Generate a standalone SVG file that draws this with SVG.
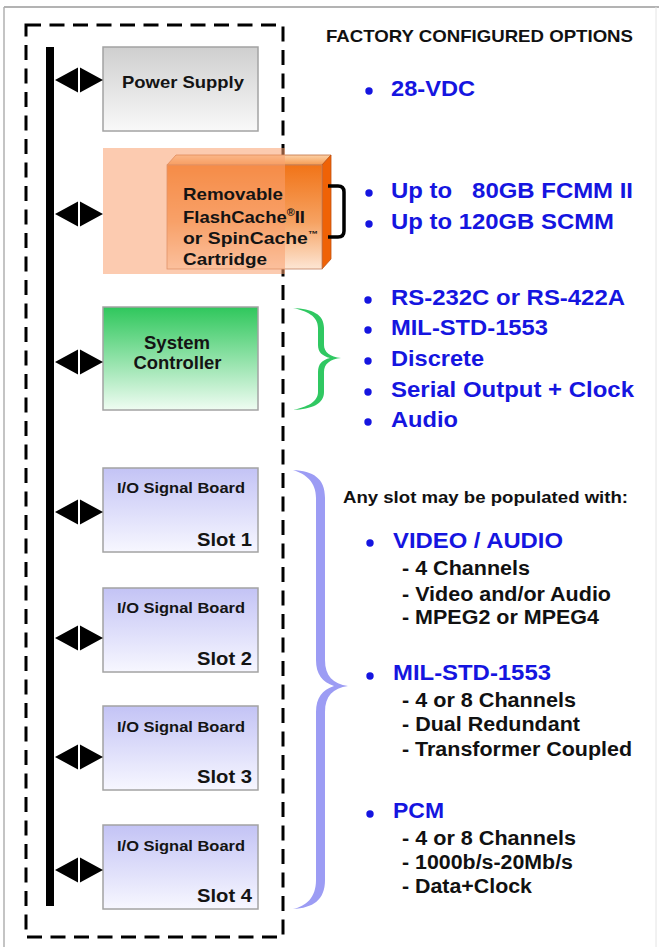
<svg xmlns="http://www.w3.org/2000/svg" width="659" height="947" viewBox="0 0 659 947">
  <defs>
    <linearGradient id="gGray" x1="0" y1="0" x2="0" y2="1">
      <stop offset="0" stop-color="#cfcfcf"/>
      <stop offset="1" stop-color="#f9f9f9"/>
    </linearGradient>
    <linearGradient id="gGreen" x1="0" y1="0" x2="0" y2="1">
      <stop offset="0" stop-color="#2fc75c"/>
      <stop offset="1" stop-color="#effcf2"/>
    </linearGradient>
    <linearGradient id="gBlue" x1="0" y1="0" x2="0" y2="1">
      <stop offset="0" stop-color="#c3c3f5"/>
      <stop offset="1" stop-color="#f7f7ff"/>
    </linearGradient>
    <linearGradient id="gFront" x1="0" y1="0" x2="0" y2="1">
      <stop offset="0" stop-color="#f17418"/>
      <stop offset="0.55" stop-color="#f6a262"/>
      <stop offset="1" stop-color="#fde6d4"/>
    </linearGradient>
    <linearGradient id="gTop" x1="0" y1="0" x2="0" y2="1">
      <stop offset="0" stop-color="#fcd2a8"/>
      <stop offset="1" stop-color="#f59a50"/>
    </linearGradient>
    <style>
      text { font-family: "Liberation Sans", Arial, sans-serif; font-weight: bold; }
      .box { stroke: #a3a3a3; stroke-width: 1.5; }
      .lbl { fill: #141414; }
      .io { font-size: 15px; }
      .slot { font-size: 18.5px; text-anchor: end; }
      .opt { fill: #1515e0; font-size: 22px; }
      .sub { fill: #111; font-size: 19.5px; }
      .dot { fill: #1515e0; }
      .arrow { fill: #000; }
    </style>
  </defs>

  <!-- page frame -->
  <g id="frame" fill="none">
    <line x1="4" y1="7" x2="659" y2="7" stroke="#9a9a9a" stroke-width="1.5"/>
    <line x1="4" y1="7" x2="4" y2="947" stroke="#b0b0b0" stroke-width="1.5"/>
    <line x1="656" y1="7" x2="656" y2="947" stroke="#e4e4e4" stroke-width="1"/>
  </g>

  <!-- chassis outline -->
  <rect id="chassis" x="26" y="25" width="257" height="912" fill="none" stroke="#000" stroke-width="3" stroke-dasharray="15 8.5"/>

  <!-- backplane bus -->
  <rect id="bus" x="46" y="47" width="8" height="859" fill="#000"/>

  <g id="power-supply">
    <rect class="box" x="103" y="47" width="155" height="84" fill="url(#gGray)"/>
    <text class="lbl" x="122" y="88" font-size="17" textLength="122" lengthAdjust="spacingAndGlyphs">Power Supply</text>
  </g>

  <g id="cartridge">
    <polygon points="167,165 176,155 331,155 322,165" fill="url(#gTop)" stroke="#c07040" stroke-width="0.8"/>
    <polygon points="322,165 331,155 331,259 322,269" fill="#ef6206" stroke="#c05010" stroke-width="0.8"/>
    <rect x="167" y="165" width="155" height="104" fill="url(#gFront)" stroke="#c08060" stroke-width="0.8"/>
    <rect x="103" y="148" width="182" height="126" fill="#f9a070" fill-opacity="0.55"/>
    <text class="lbl" font-size="17">
      <tspan x="183" y="200" textLength="100" lengthAdjust="spacingAndGlyphs">Removable</tspan>
    </text>
    <text class="lbl" font-size="17" x="183" y="223" textLength="122" lengthAdjust="spacingAndGlyphs">FlashCache<tspan font-size="10" dy="-7">®</tspan><tspan dy="7">II</tspan></text>
    <text class="lbl" font-size="17" x="183" y="244" textLength="135" lengthAdjust="spacingAndGlyphs">or SpinCache<tspan font-size="9" dy="-7">™</tspan></text>
    <text class="lbl" font-size="17" x="183" y="265" textLength="84" lengthAdjust="spacingAndGlyphs">Cartridge</text>
  </g>

  <g id="system-controller">
    <rect class="box" x="103" y="307" width="155" height="103" fill="url(#gGreen)"/>
    <text class="lbl" x="177" y="349" font-size="17.5" text-anchor="middle" textLength="66" lengthAdjust="spacingAndGlyphs">System</text>
    <text class="lbl" x="177.5" y="369" font-size="17.5" text-anchor="middle" textLength="88" lengthAdjust="spacingAndGlyphs">Controller</text>
  </g>

  <g id="slot-1">
    <rect class="box" x="103" y="468" width="155" height="84" fill="url(#gBlue)"/>
    <text class="lbl io" x="117" y="493" textLength="128" lengthAdjust="spacingAndGlyphs">I/O Signal Board</text>
    <text class="lbl slot" x="252" y="546" textLength="55" lengthAdjust="spacingAndGlyphs">Slot 1</text>
  </g>
  <g id="slot-2">
    <rect class="box" x="103" y="588" width="155" height="84" fill="url(#gBlue)"/>
    <text class="lbl io" x="117" y="613" textLength="128" lengthAdjust="spacingAndGlyphs">I/O Signal Board</text>
    <text class="lbl slot" x="252" y="665" textLength="55" lengthAdjust="spacingAndGlyphs">Slot 2</text>
  </g>
  <g id="slot-3">
    <rect class="box" x="103" y="706" width="155" height="84" fill="url(#gBlue)"/>
    <text class="lbl io" x="117" y="732" textLength="128" lengthAdjust="spacingAndGlyphs">I/O Signal Board</text>
    <text class="lbl slot" x="252" y="783" textLength="55" lengthAdjust="spacingAndGlyphs">Slot 3</text>
  </g>
  <g id="slot-4">
    <rect class="box" x="103" y="825" width="155" height="84" fill="url(#gBlue)"/>
    <text class="lbl io" x="117" y="851" textLength="128" lengthAdjust="spacingAndGlyphs">I/O Signal Board</text>
    <text class="lbl slot" x="252" y="902" textLength="55" lengthAdjust="spacingAndGlyphs">Slot 4</text>
  </g>

  <!-- bus-to-board double arrows -->
  <g id="connectors" class="arrow">
    <path d="M55,80 L78,67.5 L78,92.5 Z M103,80 L80,67.5 L80,92.5 Z"/>
    <path d="M55,214 L78,201.5 L78,226.5 Z M103,214 L80,201.5 L80,226.5 Z"/>
    <path d="M55,362 L78,349.5 L78,374.5 Z M103,362 L80,349.5 L80,374.5 Z"/>
    <path d="M55,512 L78,499.5 L78,524.5 Z M103,512 L80,499.5 L80,524.5 Z"/>
    <path d="M55,638 L78,625.5 L78,650.5 Z M103,638 L80,625.5 L80,650.5 Z"/>
    <path d="M55,757 L78,744.5 L78,769.5 Z M103,757 L80,744.5 L80,769.5 Z"/>
    <path d="M55,870 L78,857.5 L78,882.5 Z M103,870 L80,857.5 L80,882.5 Z"/>
  </g>

  <!-- option brackets -->
  <g id="braces">
    <path d="M328,186 L338,186 Q344,186 344,192 L344,231 Q344,237 338,237 L328,237" fill="none" stroke="#000" stroke-width="3.5"/>
    <path fill="#30c862" d="M293,308 C312,309 324,314 324,328 L324,345 C324,352 330,357 341,358 C330,359 324,364 324,372 L324,392 C324,404 312,409 293,410 C307,407 318,402 318,392 L318,372 C318,364 322,360 330,358 C322,356 318,352 318,345 L318,328 C318,316 307,311 293,308 Z"/>
    <path fill="#9c9cf4" d="M293,470 C313,471 325,478 325,498 L325,660 C325,676 333,684 348,686 C333,688 325,696 325,712 L325,880 C325,900 313,908 293,909 C306,906 316,898 316,880 L316,712 C316,698 322,690 334,686 C322,682 316,674 316,660 L316,498 C316,482 306,474 293,470 Z"/>
  </g>

  <!-- option lists -->
  <g id="options">
    <text x="326" y="42" font-size="17" fill="#111" textLength="307" lengthAdjust="spacingAndGlyphs">FACTORY CONFIGURED OPTIONS</text>

    <circle class="dot" cx="369" cy="91" r="3.7"/>
    <text class="opt" x="391" y="96" textLength="84" lengthAdjust="spacingAndGlyphs">28-VDC</text>

    <circle class="dot" cx="369" cy="193" r="3.7"/>
    <text class="opt" x="391" y="198" textLength="242" lengthAdjust="spacingAndGlyphs" style="white-space:pre">Up to   80GB FCMM II</text>
    <circle class="dot" cx="369" cy="224" r="3.7"/>
    <text class="opt" x="391" y="229" textLength="223" lengthAdjust="spacingAndGlyphs">Up to 120GB SCMM</text>

    <circle class="dot" cx="368" cy="300" r="3.7"/>
    <text class="opt" x="391" y="305" textLength="234" lengthAdjust="spacingAndGlyphs">RS-232C or RS-422A</text>
    <circle class="dot" cx="368" cy="330" r="3.7"/>
    <text class="opt" x="391" y="335" textLength="157" lengthAdjust="spacingAndGlyphs">MIL-STD-1553</text>
    <circle class="dot" cx="368" cy="361" r="3.7"/>
    <text class="opt" x="391" y="366" textLength="93" lengthAdjust="spacingAndGlyphs">Discrete</text>
    <circle class="dot" cx="368" cy="392" r="3.7"/>
    <text class="opt" x="391" y="397" textLength="243" lengthAdjust="spacingAndGlyphs">Serial Output + Clock</text>
    <circle class="dot" cx="368" cy="422" r="3.7"/>
    <text class="opt" x="391" y="427" textLength="67" lengthAdjust="spacingAndGlyphs">Audio</text>

    <text x="343" y="503" font-size="17" fill="#111" textLength="285" lengthAdjust="spacingAndGlyphs">Any slot may be populated with:</text>

    <circle class="dot" cx="370" cy="543" r="3.7"/>
    <text class="opt" x="393" y="548" textLength="170" lengthAdjust="spacingAndGlyphs">VIDEO / AUDIO</text>
    <text class="sub" x="402" y="575" textLength="128" lengthAdjust="spacingAndGlyphs">- 4 Channels</text>
    <text class="sub" x="402" y="601" textLength="209" lengthAdjust="spacingAndGlyphs">- Video and/or Audio</text>
    <text class="sub" x="402" y="624" textLength="197" lengthAdjust="spacingAndGlyphs">- MPEG2 or MPEG4</text>

    <circle class="dot" cx="370" cy="676" r="3.7"/>
    <text class="opt" x="393" y="680" textLength="158" lengthAdjust="spacingAndGlyphs">MIL-STD-1553</text>
    <text class="sub" x="402" y="707" textLength="174" lengthAdjust="spacingAndGlyphs">- 4 or 8 Channels</text>
    <text class="sub" x="402" y="731" textLength="178" lengthAdjust="spacingAndGlyphs">- Dual Redundant</text>
    <text class="sub" x="402" y="756" textLength="230" lengthAdjust="spacingAndGlyphs">- Transformer Coupled</text>

    <circle class="dot" cx="370" cy="814" r="3.7"/>
    <text class="opt" x="393" y="818" textLength="51" lengthAdjust="spacingAndGlyphs">PCM</text>
    <text class="sub" x="402" y="845" textLength="174" lengthAdjust="spacingAndGlyphs">- 4 or 8 Channels</text>
    <text class="sub" x="402" y="869" textLength="171" lengthAdjust="spacingAndGlyphs">- 1000b/s-20Mb/s</text>
    <text class="sub" x="402" y="893" textLength="130" lengthAdjust="spacingAndGlyphs">- Data+Clock</text>
  </g>
</svg>
